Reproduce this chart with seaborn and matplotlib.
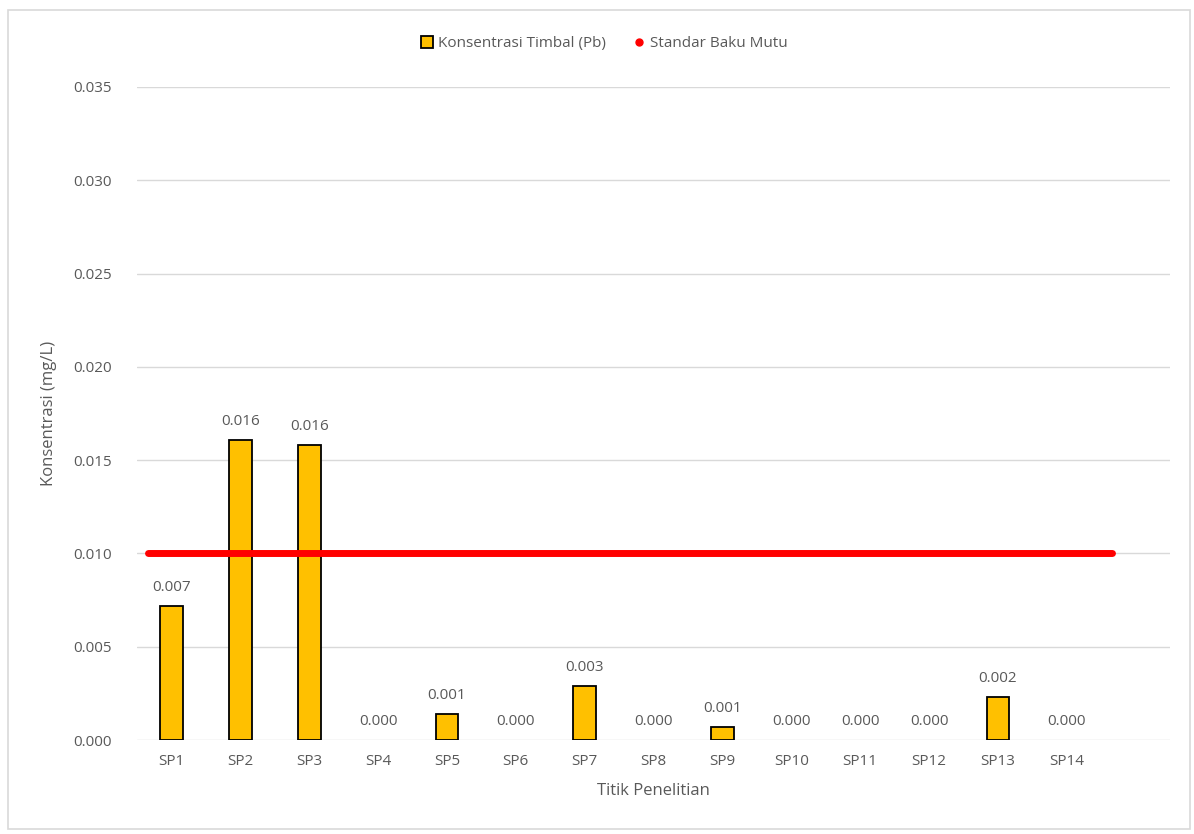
import seaborn as sns
import matplotlib.pyplot as plt
import pandas as pd
from matplotlib.lines import Line2D
from matplotlib.patches import Rectangle

# Data
stations = ["SP1", "SP2", "SP3", "SP4", "SP5", "SP6", "SP7",
            "SP8", "SP9", "SP10", "SP11", "SP12", "SP13", "SP14"]
lead_conc = [0.0072, 0.0161, 0.0158, 0.0, 0.0014, 0.0, 0.0029,
             0.0, 0.0007, 0.0, 0.0, 0.0, 0.0023, 0.0]
standard = 0.010
y_ticks = [0.000, 0.005, 0.010, 0.015, 0.020, 0.025, 0.030, 0.035]

df = pd.DataFrame({"station": stations, "pb": lead_conc})

sns.set_style("white")
plt.rcParams["font.family"] = ["Open Sans", "DejaVu Sans"]
txt = "#595959"

fig = plt.figure(figsize=(11.94, 8.34), dpi=100)
ax = fig.add_axes([0.1147, 0.1127, 0.8653, 0.783])

sns.barplot(data=df, x="station", y="pb", color="#FFC000", edgecolor="black",
            linewidth=1.3, width=0.33, saturation=1, ax=ax, zorder=3)

# zero-height bars are not visible in the original
for bar, v in zip(ax.patches, lead_conc):
    if v == 0:
        bar.set_linewidth(0)

# one empty slot to the right, as in the original
ax.set_xlim(-0.5, len(stations) + 0.5)
ax.set_ylim(0, 0.035)
ax.set_yticks(y_ticks)
ax.set_yticklabels([f"{v:.3f}" for v in y_ticks], fontsize=11, color=txt)
ax.tick_params(axis="x", labelsize=11, labelcolor=txt, length=0, pad=10)
ax.tick_params(axis="y", length=0, pad=18)
ax.yaxis.grid(True, color="#D9D9D9", linewidth=1)
ax.set_axisbelow(True)
for s in ax.spines.values():
    s.set_visible(False)

# bar value labels
for i, v in enumerate(lead_conc):
    ax.annotate(f"{v:.3f}", (i, v), xytext=(0, 8), textcoords="offset points",
                ha="center", va="bottom", fontsize=11, color=txt)

# standard line
ax.hlines(standard, -0.34, len(stations) - 0.35, color="#FF0000",
          linewidth=5, zorder=4, capstyle="round")

ax.set_xlabel("Titik Penelitian", fontsize=12, color=txt, labelpad=10)
ax.set_ylabel("Konsentrasi (mg/L)", fontsize=12, color=txt, labelpad=12)

handles = [
    Line2D([], [], marker="s", linestyle="none", markersize=9,
           markerfacecolor="#FFC000", markeredgecolor="black", markeredgewidth=1.3),
    Line2D([], [], marker="o", linestyle="none", markersize=5,
           markerfacecolor="#FF0000", markeredgecolor="#FF0000"),
]
fig.legend(handles, ["Konsentrasi Timbal (Pb)", "Standar Baku Mutu"],
           loc="center", bbox_to_anchor=(0.505, 0.948), ncol=2, frameon=False,
           fontsize=11, labelcolor=txt, handletextpad=0.1, handlelength=1.2,
           columnspacing=1.6)

# light frame around the chart
fig.patches.append(Rectangle((0.007, 0.006), 0.99, 0.982, transform=fig.transFigure,
                             fill=False, edgecolor="#D9D9D9", linewidth=1.2))

fig.savefig("out.png", dpi=100)
